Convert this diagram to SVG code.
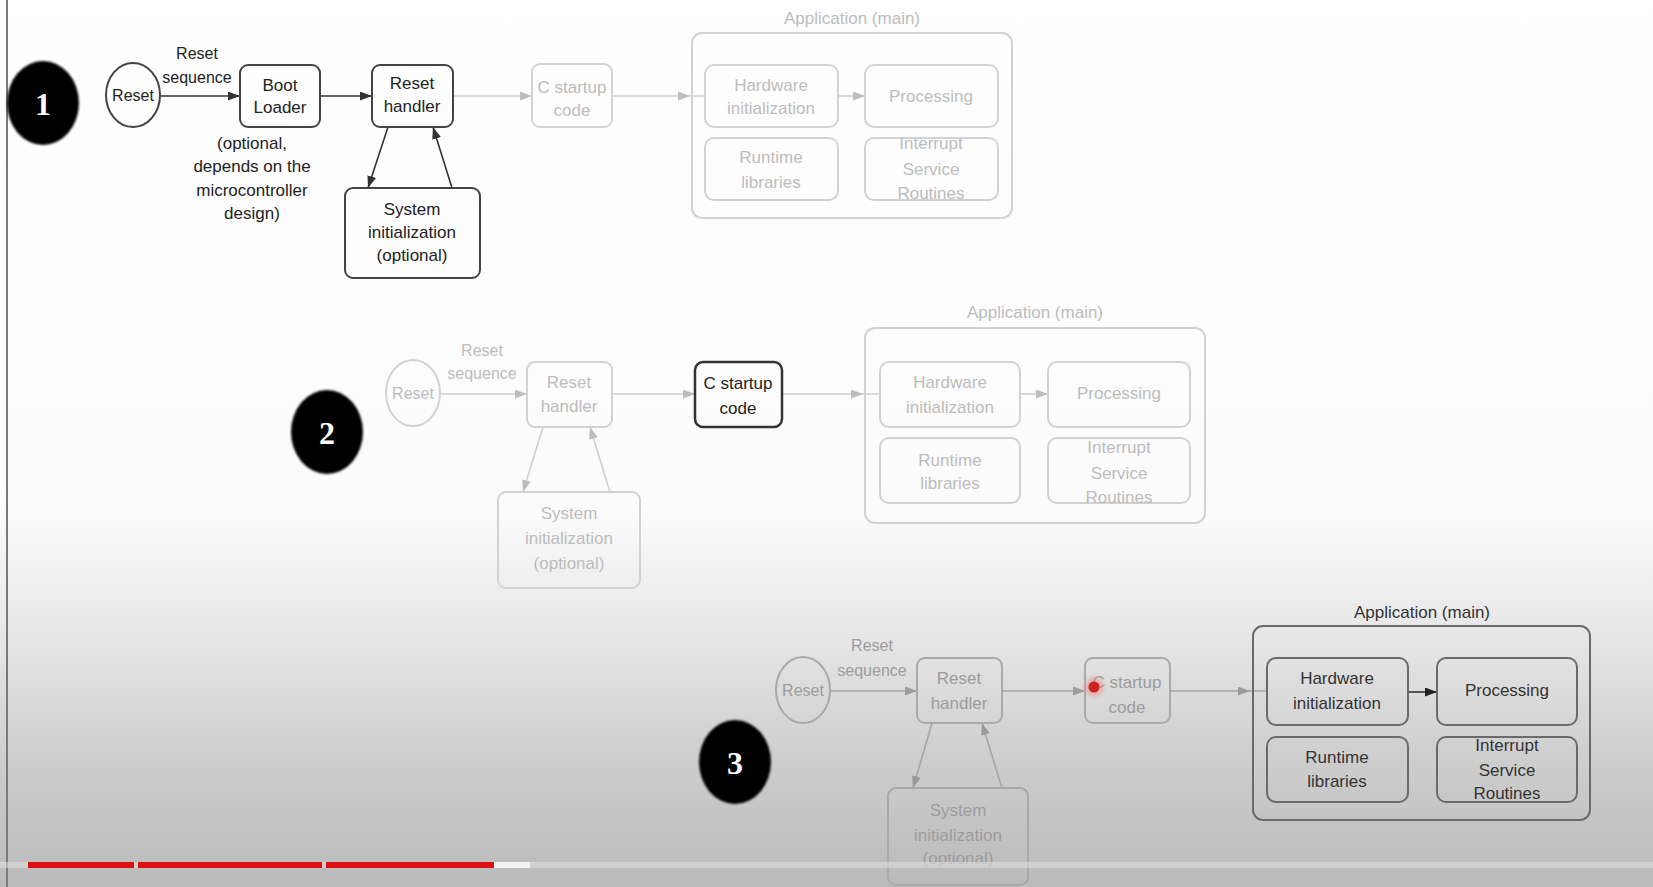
<svg xmlns="http://www.w3.org/2000/svg" width="1653" height="887" viewBox="0 0 1653 887">
<defs>
<linearGradient id="bg" x1="0" y1="0" x2="0" y2="887" gradientUnits="userSpaceOnUse">
<stop offset="0" stop-color="#ffffff"/>
<stop offset="0.58" stop-color="#fbfbfb"/>
<stop offset="0.72" stop-color="#e6e6e6"/>
<stop offset="0.86" stop-color="#cdcdcd"/>
<stop offset="1" stop-color="#bababa"/>
</linearGradient>
<filter id="soft" x="-20%" y="-20%" width="140%" height="140%"><feGaussianBlur stdDeviation="1.2"/></filter>
<filter id="glow" x="-100%" y="-100%" width="300%" height="300%"><feGaussianBlur stdDeviation="2.5"/></filter>
<marker id="aDark" markerUnits="userSpaceOnUse" markerWidth="13" markerHeight="10" refX="12" refY="4.5" orient="auto"><path d="M0,0 L12,4.5 L0,9 z" fill="#333"/></marker>
<marker id="aLight" markerUnits="userSpaceOnUse" markerWidth="13" markerHeight="10" refX="12" refY="4.5" orient="auto"><path d="M0,0 L12,4.5 L0,9 z" fill="#bdbdbd"/></marker>
<marker id="aMid" markerUnits="userSpaceOnUse" markerWidth="13" markerHeight="10" refX="12" refY="4.5" orient="auto"><path d="M0,0 L12,4.5 L0,9 z" fill="#9a9a9a"/></marker>
<marker id="aDark3" markerUnits="userSpaceOnUse" markerWidth="13" markerHeight="10" refX="12" refY="4.5" orient="auto"><path d="M0,0 L12,4.5 L0,9 z" fill="#222"/></marker>
</defs>
<style>
text{font-family:"Liberation Sans",Arial,sans-serif;font-size:17px;text-anchor:middle}
.lbl{font-size:16px}
.dk rect,.dk ellipse{fill:none;stroke:#444;stroke-width:2}
.dk text{fill:#222}
.lt rect,.lt ellipse{fill:none;stroke:#d2d2d2;stroke-width:2}
.lt text{fill:#bcbcbc}
.md rect,.md ellipse{fill:none;stroke:#a9a9a9;stroke-width:2}
.md text{fill:#9c9c9c}
.d3 rect{fill:none;stroke:#6a6a6a;stroke-width:2}
.d3 text{fill:#333}
.badge ellipse{fill:#000;filter:url(#soft)}
.badge text{font-family:"Liberation Serif","Times New Roman",serif;font-weight:bold;font-size:32px;fill:#fff}
.cd{stroke:#333;stroke-width:1.6;fill:none}
.cl{stroke:#d0d0d0;stroke-width:1.6;fill:none}
.cm{stroke:#a5a5a5;stroke-width:1.6;fill:none}
.cx{stroke:#333;stroke-width:1.6;fill:none}
</style>
<rect x="0" y="0" width="1653" height="887" fill="url(#bg)"/>
<line x1="7" y1="0" x2="7" y2="887" stroke="#7a7a7a" stroke-width="2"/>

<!-- Badges -->
<g id="badge1" class="badge"><ellipse cx="43" cy="103" rx="36" ry="42"/><text x="43" y="115">1</text></g>
<g id="badge2" class="badge"><ellipse cx="327" cy="432" rx="36" ry="42"/><text x="327" y="444">2</text></g>
<g id="badge3" class="badge"><ellipse cx="735" cy="762" rx="36" ry="42"/><text x="735" y="774">3</text></g>

<!-- Connectors -->
<g id="connectors">
<path class="cd" d="M160,96 L240,96" marker-end="url(#aDark)"/>
<path class="cd" d="M320,96 L372,96" marker-end="url(#aDark)"/>
<path class="cd" d="M388,127 L368,188" marker-end="url(#aDark)"/>
<path class="cd" d="M452,188 L433,127" marker-end="url(#aDark)"/>
<path class="cl" d="M453,96 L532,96" marker-end="url(#aLight)"/>
<path class="cl" d="M612,96 L690,96 L705,96" marker-mid="url(#aLight)"/>
<path class="cl" d="M838,96 L865,96" marker-end="url(#aLight)"/>

<path class="cl" d="M440,394 L527,394" marker-end="url(#aLight)"/>
<path class="cl" d="M612,394 L695,394" marker-end="url(#aLight)"/>
<path class="cl" d="M543,427 L523,492" marker-end="url(#aLight)"/>
<path class="cl" d="M610,492 L590,427" marker-end="url(#aLight)"/>
<path class="cl" d="M782,394 L863,394 L880,394" marker-mid="url(#aLight)"/>
<path class="cl" d="M1020,394 L1048,394" marker-end="url(#aLight)"/>

<path class="cm" d="M830,691 L917,691" marker-end="url(#aMid)"/>
<path class="cm" d="M1002,691 L1085,691" marker-end="url(#aMid)"/>
<path class="cm" d="M932,723 L913,788" marker-end="url(#aMid)"/>
<path class="cm" d="M1002,788 L982,723" marker-end="url(#aMid)"/>
<path class="cm" d="M1170,691 L1250,691 L1267,691" marker-mid="url(#aMid)"/>
<path class="cx" d="M1408,692 L1437,692" marker-end="url(#aDark3)"/>
</g>

<!-- Diagram 1 -->
<g id="reset1" class="dk"><ellipse cx="133" cy="95" rx="27" ry="32"/><text class="lbl" x="133" y="101">Reset</text></g>
<g id="seqlabel1" class="dk"><text class="lbl" x="197" y="59">Reset</text><text class="lbl" x="197" y="83">sequence</text></g>
<g id="boot1" class="dk"><rect x="240" y="65" width="80" height="62" rx="8"/><text x="280" y="91">Boot</text><text x="280" y="113">Loader</text></g>
<g id="bootnote1" class="dk"><text x="252" y="149">(optional,</text><text x="252" y="172">depends on the</text><text x="252" y="196">microcontroller</text><text x="252" y="219">design)</text></g>
<g id="rh1" class="dk"><rect x="372" y="65" width="81" height="62" rx="8"/><text x="412" y="89">Reset</text><text x="412" y="112">handler</text></g>
<g id="sys1" class="dk"><rect x="345" y="188" width="135" height="90" rx="8"/><text x="412" y="215">System</text><text x="412" y="238">initialization</text><text x="412" y="261">(optional)</text></g>
<g id="cs1" class="lt"><rect x="532" y="64" width="80" height="63" rx="8"/><text x="572" y="93">C startup</text><text x="572" y="116">code</text></g>
<g id="app1" class="lt"><rect x="692" y="33" width="320" height="185" rx="10"/><text x="852" y="24">Application (main)</text></g>
<g id="hw1" class="lt"><rect x="705" y="65" width="133" height="62" rx="9"/><text x="771" y="91">Hardware</text><text x="771" y="114">initialization</text></g>
<g id="proc1" class="lt"><rect x="865" y="65" width="133" height="62" rx="9"/><text x="931" y="102">Processing</text></g>
<g id="rt1" class="lt"><rect x="705" y="138" width="133" height="62" rx="9"/><text x="771" y="163">Runtime</text><text x="771" y="188">libraries</text></g>
<g id="isr1" class="lt"><rect x="865" y="138" width="133" height="62" rx="9"/><text x="931" y="149">Interrupt</text><text x="931" y="175">Service</text><text x="931" y="199">Routines</text></g>

<!-- Diagram 2 -->
<g id="reset2" class="lt"><ellipse cx="413" cy="393" rx="27" ry="33"/><text class="lbl" x="413" y="399">Reset</text></g>
<g id="seqlabel2" class="lt"><text class="lbl" x="482" y="356">Reset</text><text class="lbl" x="482" y="379">sequence</text></g>
<g id="rh2" class="lt"><rect x="527" y="362" width="85" height="65" rx="8"/><text x="569" y="388">Reset</text><text x="569" y="412">handler</text></g>
<g id="cs2" class="dk"><rect x="695" y="362" width="87" height="65" rx="8" style="stroke:#333;stroke-width:2.5"/><text x="738" y="389">C startup</text><text x="738" y="414">code</text></g>
<g id="sys2" class="lt"><rect x="498" y="492" width="142" height="96" rx="8"/><text x="569" y="519">System</text><text x="569" y="544">initialization</text><text x="569" y="569">(optional)</text></g>
<g id="app2" class="lt"><rect x="865" y="328" width="340" height="195" rx="10"/><text x="1035" y="318">Application (main)</text></g>
<g id="hw2" class="lt"><rect x="880" y="362" width="140" height="65" rx="9"/><text x="950" y="388">Hardware</text><text x="950" y="413">initialization</text></g>
<g id="proc2" class="lt"><rect x="1048" y="362" width="142" height="65" rx="9"/><text x="1119" y="399">Processing</text></g>
<g id="rt2" class="lt"><rect x="880" y="438" width="140" height="65" rx="9"/><text x="950" y="466">Runtime</text><text x="950" y="489">libraries</text></g>
<g id="isr2" class="lt"><rect x="1048" y="438" width="142" height="65" rx="9"/><text x="1119" y="453">Interrupt</text><text x="1119" y="479">Service</text><text x="1119" y="503">Routines</text></g>

<!-- Diagram 3 -->
<g id="reset3" class="md"><ellipse cx="803" cy="690" rx="27" ry="33"/><text class="lbl" x="803" y="696">Reset</text></g>
<g id="seqlabel3" class="md"><text class="lbl" x="872" y="651">Reset</text><text class="lbl" x="872" y="676">sequence</text></g>
<g id="rh3" class="md"><rect x="917" y="658" width="85" height="65" rx="8"/><text x="959" y="684">Reset</text><text x="959" y="709">handler</text></g>
<g id="cs3" class="md"><rect x="1085" y="658" width="85" height="65" rx="8"/><text x="1127" y="688">C startup</text><text x="1127" y="713">code</text></g>
<g id="sys3" class="md"><rect x="888" y="788" width="140" height="97" rx="8"/><text x="958" y="816">System</text><text x="958" y="841">initialization</text><text x="958" y="864">(optional)</text></g>
<g id="app3" class="d3"><rect x="1253" y="626" width="337" height="194" rx="10"/><text x="1422" y="618">Application (main)</text></g>
<g id="hw3" class="d3"><rect x="1267" y="658" width="141" height="67" rx="9"/><text x="1337" y="684">Hardware</text><text x="1337" y="709">initialization</text></g>
<g id="proc3" class="d3"><rect x="1437" y="658" width="140" height="67" rx="9"/><text x="1507" y="696">Processing</text></g>
<g id="rt3" class="d3"><rect x="1267" y="737" width="141" height="65" rx="9"/><text x="1337" y="763">Runtime</text><text x="1337" y="787">libraries</text></g>
<g id="isr3" class="d3"><rect x="1437" y="737" width="140" height="65" rx="9"/><text x="1507" y="751">Interrupt</text><text x="1507" y="776">Service</text><text x="1507" y="799">Routines</text></g>

<!-- red pointer dot -->
<circle cx="1094" cy="687" r="9" fill="#f08080" opacity="0.6" filter="url(#glow)"/>
<circle cx="1094" cy="687" r="5.5" fill="#cc2222"/>

<!-- progress bar -->
<g id="progress">
<rect x="0" y="862" width="1653" height="6" fill="#e2e2e2" opacity="0.55"/>
<rect x="494" y="862" width="36" height="6" fill="#f2f2f2"/>
<rect x="28" y="862" width="106" height="6" fill="#dd1111"/>
<rect x="138" y="862" width="184" height="6" fill="#dd1111"/>
<rect x="326" y="862" width="168" height="6" fill="#dd1111"/>
</g>
</svg>
